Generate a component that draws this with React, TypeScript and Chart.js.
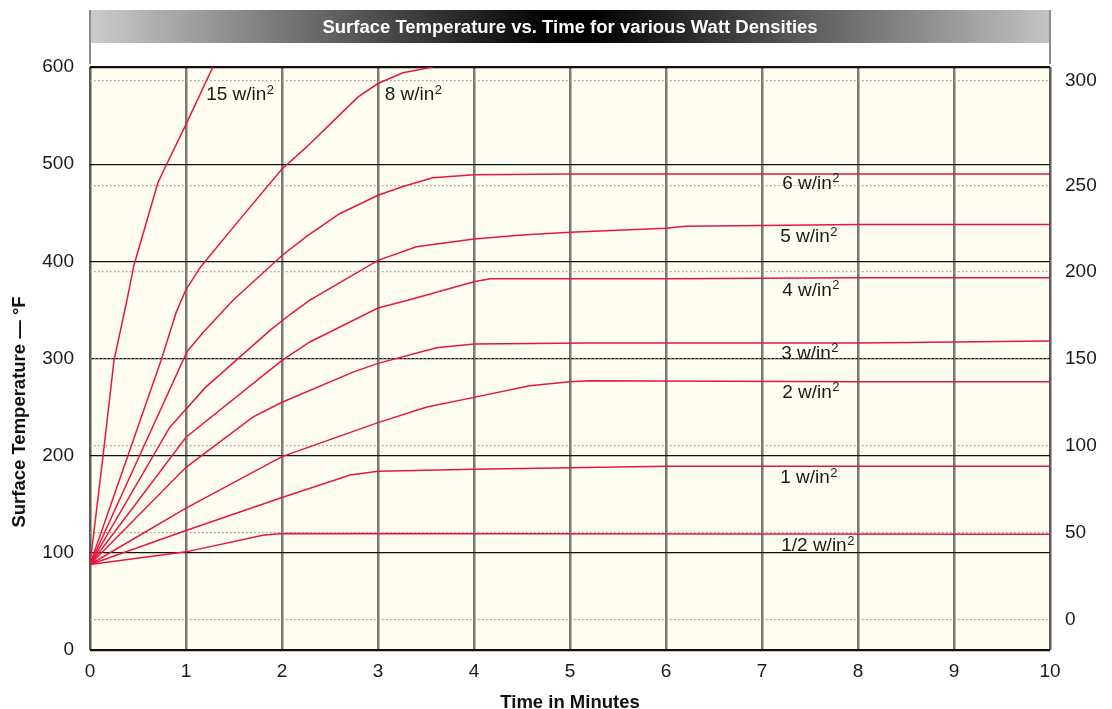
import React, { useEffect, useRef } from 'react';
import { Chart, registerables } from 'chart.js';

Chart.register(...registerables);

// ---- Data ----
const chartTitle = 'Surface Temperature vs. Time for various Watt Densities';
const xTitle = 'Time in Minutes';
const yTitle = 'Surface Temperature \u2014 \u00B0F';

const xTickValues = [0, 1, 2, 3, 4, 5, 6, 7, 8, 9, 10];
const fahrenheitTicks = [0, 100, 200, 300, 400, 500, 600];
const celsiusLabels = ['0', '50', '100', '150', '200', '250', '300'];
// where the °C reference lines sit on the °F scale (as drawn in the reference)
const celsiusTickPosF = [31, 121, 210, 300, 389, 478, 586];

// series: [minutes, °F]
const w15 = [[0, 88], [0.135, 199], [0.25, 298], [0.385, 360], [0.458, 396], [0.708, 481], [0.77, 494], [1.01, 543], [1.28, 600]];
const w8 = [[0, 88], [0.74, 298], [0.9, 348], [1.0, 371], [1.15, 394], [1.5, 436], [2.0, 495], [2.26, 518], [2.52, 543], [2.79, 569], [3.0, 583], [3.26, 594], [3.57, 600]];
const w6 = [[0, 88], [1.01, 307], [1.18, 327], [1.49, 360], [2.0, 406], [2.26, 426], [2.6, 449], [3.0, 468], [3.26, 477], [3.57, 486], [4.0, 489], [5, 490], [6, 490], [8, 490], [10, 490]];
const w5 = [[0, 88], [0.83, 229], [1.2, 270], [1.875, 329], [2.08, 345], [2.29, 360], [3.0, 401], [3.4, 415], [4.0, 423], [4.5, 427], [5.0, 430], [5.5, 432], [6.0, 434], [6.2, 436], [7, 437], [8, 438], [10, 438]];
const w4 = [[0, 88], [1.0, 219], [2.0, 298], [2.29, 317], [3.0, 352], [3.31, 360], [4.0, 379], [4.17, 382], [6, 382], [8, 383], [10, 383]];
const w3 = [[0, 88], [1.0, 188], [1.7, 240], [2.0, 255], [2.74, 286], [3.0, 295], [3.61, 311], [4.0, 315], [5.2, 316], [8, 316], [10, 318]];
const w2 = [[0, 88], [1.0, 146], [2.0, 199], [3.0, 234], [3.51, 250], [4.0, 260], [4.58, 272], [5.0, 276], [5.2, 277], [8, 276], [10, 276]];
const w1 = [[0, 88], [1.0, 123], [2.0, 157], [2.71, 180], [3.0, 184], [4.0, 186], [6, 189], [10, 189]];
const wHalf = [[0, 88], [1.0, 101], [1.8, 118], [2.0, 120], [10, 119]];

const seriesData = [w15, w8, w6, w5, w4, w3, w2, w1, wHalf];
const seriesNames = ['15 w/in', '8 w/in', '6 w/in', '5 w/in', '4 w/in', '3 w/in', '2 w/in', '1 w/in', '1/2 w/in'];
// label anchors in data units (minutes, °F)
const labelX = [1.21, 3.07, 7.21, 7.19, 7.21, 7.2, 7.21, 7.19, 7.2];
const labelY = [571, 571, 480, 425, 370, 305, 265, 177, 107];

const FONT = '"Liberation Sans", Arial, Helvetica, sans-serif';
const RED = '#E5173F';

const decorPlugin = {
  id: 'decor',
  beforeDraw(chart: any) {
    const { ctx, chartArea: a } = chart;
    ctx.save();
    // plot background
    ctx.fillStyle = '#FFFDEF';
    ctx.fillRect(a.left, a.top, a.right - a.left, a.bottom - a.top);
    // header bar
    const barTop = a.top - 57;
    const barH = 33;
    const g = ctx.createLinearGradient(a.left, 0, a.right, 0);
    g.addColorStop(0, '#cccccc');
    g.addColorStop(0.47, '#050505');
    g.addColorStop(0.52, '#000000');
    g.addColorStop(1, '#c3c3c3');
    ctx.fillStyle = g;
    ctx.fillRect(a.left, barTop, a.right - a.left, barH);
    ctx.strokeStyle = '#8c8c8c';
    ctx.lineWidth = 2;
    ctx.beginPath();
    ctx.moveTo(a.left, barTop);
    ctx.lineTo(a.left, a.top - 3);
    ctx.moveTo(a.right, barTop);
    ctx.lineTo(a.right, a.top - 3);
    ctx.stroke();
    ctx.fillStyle = '#ffffff';
    ctx.font = 'bold 18.5px ' + FONT;
    ctx.textAlign = 'center';
    ctx.textBaseline = 'middle';
    ctx.fillText(chartTitle, (a.left + a.right) / 2, barTop + barH / 2 + 1);
    // axis titles
    ctx.fillStyle = '#111111';
    ctx.font = 'bold 18.5px ' + FONT;
    ctx.fillText(xTitle, (a.left + a.right) / 2, a.bottom + 53);
    ctx.translate(20, a.top + 345);
    ctx.rotate(-Math.PI / 2);
    ctx.fillText(yTitle, 0, 0);
    ctx.restore();
  },
  afterDatasetsDraw(chart: any) {
    const { ctx } = chart;
    const xs = chart.scales.x;
    const ys = chart.scales.y;
    ctx.save();
    ctx.fillStyle = '#1a1a1a';
    ctx.textBaseline = 'middle';
    ctx.textAlign = 'left';
    seriesNames.forEach((name, i) => {
      const px = xs.getPixelForValue(labelX[i]);
      const py = ys.getPixelForValue(labelY[i]);
      ctx.font = '19px ' + FONT;
      ctx.fillText(name, px, py);
      const w = ctx.measureText(name).width;
      ctx.font = '13px ' + FONT;
      ctx.fillText('2', px + w + 0.5, py - 5);
    });
    ctx.restore();
  },
};

export default function App() {
  const ref = useRef<HTMLCanvasElement>(null);
  useEffect(() => {
    if (!ref.current) return;
    const tickFont = { family: FONT, size: 19 };
    const chart = new Chart(ref.current, {
      type: 'line',
      data: {
        datasets: seriesData.map((s, i) => ({
          label: seriesNames[i],
          data: s.map(([x, y]) => ({ x, y })),
          borderColor: RED,
          borderWidth: 1.5,
          pointRadius: 0,
          tension: 0,
          fill: false,
          yAxisID: 'y',
        })),
      },
      options: {
        animation: false,
        responsive: false,
        devicePixelRatio: 1,
        layout: { padding: { top: 67, left: 0, right: 0, bottom: 0 } },
        plugins: {
          legend: { display: false },
          tooltip: { enabled: false },
          title: { display: false },
        },
        scales: {
          x: {
            type: 'linear',
            min: 0,
            max: 10,
            afterBuildTicks: (s: any) => {
              s.ticks = xTickValues.map((v) => ({ value: v }));
            },
            afterFit: (s: any) => {
              s.height = 59;
            },
            grid: {
              color: (c: any) => (c.tick && (c.tick.value === 0 || c.tick.value === 10) ? '#5d5b55' : '#7c7970'),
              lineWidth: 2.5,
              drawTicks: false,
            },
            border: { display: false },
            ticks: { padding: 10, font: tickFont, color: '#1a1a1a' },
          },
          y: {
            type: 'linear',
            position: 'left',
            min: 0,
            max: 600,
            afterBuildTicks: (s: any) => {
              s.ticks = fahrenheitTicks.map((v) => ({ value: v }));
            },
            afterFit: (s: any) => {
              s.width = 90;
            },
            grid: {
              color: '#111111',
              lineWidth: (c: any) => (c.tick && (c.tick.value === 0 || c.tick.value === 600) ? 2.2 : 1.2),
              drawTicks: false,
            },
            border: { display: false },
            ticks: { padding: 16, font: tickFont, color: '#1a1a1a' },
          },
          y2: {
            type: 'linear',
            position: 'right',
            min: 0,
            max: 600,
            afterBuildTicks: (s: any) => {
              s.ticks = celsiusTickPosF.map((v) => ({ value: v }));
            },
            afterFit: (s: any) => {
              s.width = 62;
            },
            grid: {
              color: '#9a9a9a',
              lineWidth: 1.2,
              drawTicks: false,
            },
            border: { display: false, dash: [1.5, 2.5] },
            ticks: {
              padding: 15,
              font: tickFont,
              color: '#1a1a1a',
              callback: (_v: any, i: number) => celsiusLabels[i],
            },
          },
        },
      } as any,
      plugins: [decorPlugin],
    });
    return () => chart.destroy();
  }, []);
  return (
    <div style={{ position: 'absolute', left: 0, top: 0, width: 1112, height: 709 }}>
      <canvas ref={ref} width={1112} height={709} style={{ width: 1112, height: 709, display: 'block' }} />
    </div>
  );
}
